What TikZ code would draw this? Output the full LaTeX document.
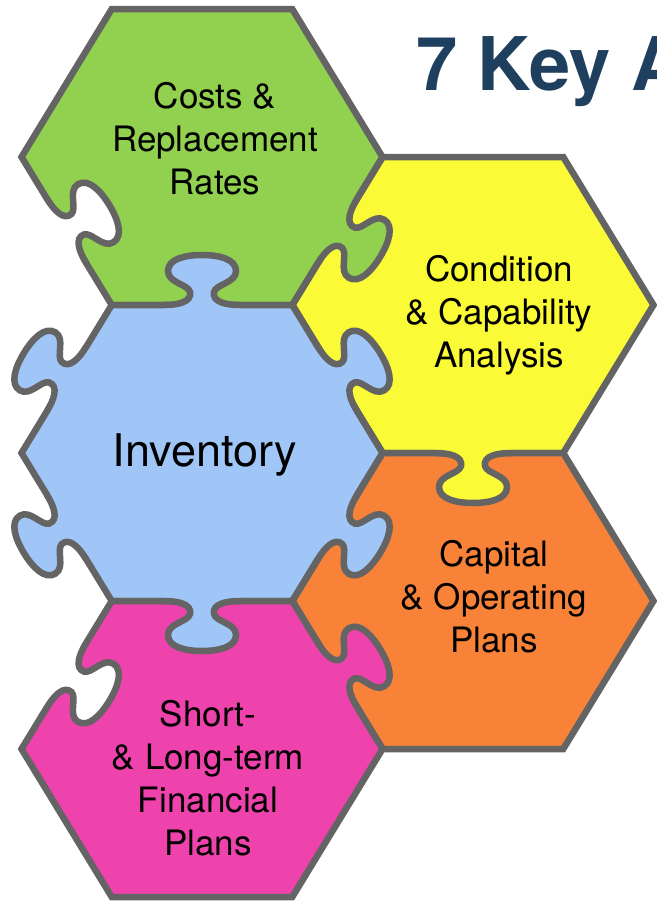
\documentclass[tikz,border=0pt]{standalone}
\usepackage{fontspec}
\setmainfont{TeX Gyre Heros}

\definecolor{rimgray}{RGB}{100,100,100}
\definecolor{costgreen}{RGB}{146,208,80}
\definecolor{condyellow}{RGB}{250,250,55}
\definecolor{invblue}{RGB}{160,198,248}
\definecolor{caporange}{RGB}{248,130,56}
\definecolor{finpink}{RGB}{238,66,172}
\definecolor{titleblue}{RGB}{30,63,94}

\tikzset{piece/.style={draw=rimgray, line width=6.5pt},
         rim/.style={draw=rimgray, line width=6.5pt, line cap=round},
         piecetext/.style={align=center, font=\fontsize{35}{43}\selectfont}}

% hexagon: centre x, centre y, colour
\newcommand{\hexpiece}[3]{%
  \begin{scope}[shift={(#1,#2)}]
    \filldraw[piece, fill=#3] (-180.5,0) -- (-90.25,148) -- (90.25,148)
      -- (180.5,0) -- (90.25,-148) -- (-90.25,-148) -- cycle;
  \end{scope}}

% knob: edge midpoint x, y, direction it points to, colour
\newcommand{\knob}[4]{%
  \begin{scope}[shift={(#1,#2)}, rotate=#3-90]
    \fill[#4] (-38,0) .. controls (-24,0) and (-10,3) .. (-12,13)
      .. controls (-14,21) and (-34,22) .. (-34,34)
      .. controls (-34,46) and (-17,50) .. (0,50)
      .. controls (17,50) and (34,46) .. (34,34)
      .. controls (34,22) and (14,21) .. (12,13)
      .. controls (10,3) and (24,0) .. (38,0)
      -- (38,-4) -- (-38,-4) -- cycle;
    \draw[rim] (-38,0) .. controls (-24,0) and (-10,3) .. (-12,13)
      .. controls (-14,21) and (-34,22) .. (-34,34)
      .. controls (-34,46) and (-17,50) .. (0,50)
      .. controls (17,50) and (34,46) .. (34,34)
      .. controls (34,22) and (14,21) .. (12,13)
      .. controls (10,3) and (24,0) .. (38,0);
  \end{scope}}

\begin{document}
\begin{tikzpicture}[x=1pt, y=1pt]
  \useasboundingbox (0,0) rectangle (656,-902);

  % the five pieces
  \foreach \cx/\cy/\col in {202/-157/costgreen, 473/-305/condyellow,
      202/-453/invblue, 473/-601/caporange, 202/-749/finpink}
    \hexpiece{\cx}{\cy}{\col};

  % tabs and blanks
  \foreach \kx/\ky/\dir/\col in {202/-305/90/invblue, 202/-601/-90/invblue,
      473/-453/-90/condyellow, 337.4/-231/-31.37/costgreen,
      337.4/-379/31.37/invblue, 337.4/-527/-31.37/invblue,
      337.4/-675/31.37/finpink, 66.6/-379/148.63/invblue,
      66.6/-527/211.37/invblue, 66.6/-231/31.37/white,
      66.6/-675/-31.37/white}
    \knob{\kx}{\ky}{\dir}{\col};

  \node[piecetext] (costs) at (215,-139) {Costs \&\\Replacement\\Rates};
  \node[piecetext] (condition) at (499,-315) {Condition\\\& Capability\\Analysis};
  \node[font=\fontsize{45}{54}\selectfont] (inventory) at (205,-455) {Inventory};
  \node[piecetext] (capital) at (494,-597) {Capital\\\& Operating\\Plans};
  \node[piecetext] (shortterm) at (208,-778) {Short-\\\& Long-term\\Financial\\Plans};

  \node[anchor=base west, inner sep=0pt, text=titleblue,
    font=\fontsize{74}{80}\selectfont\bfseries] (title) at (416,-90) {7 Key A};
\end{tikzpicture}
\end{document}
